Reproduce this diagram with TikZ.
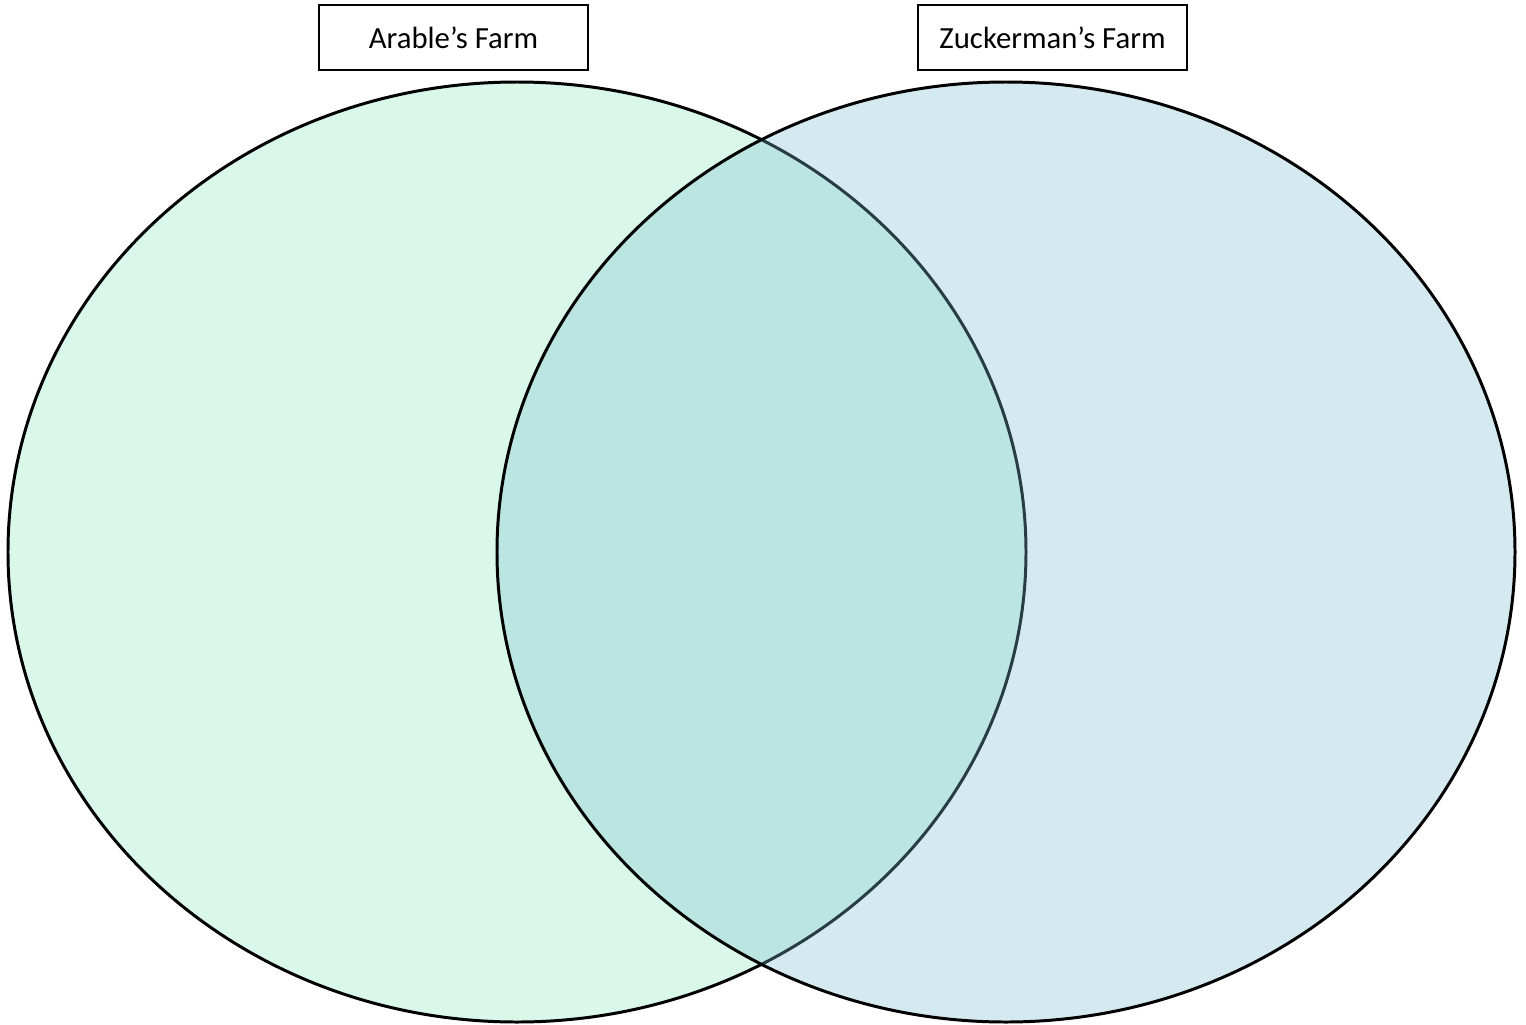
\documentclass[tikz,border=0pt]{standalone}
\usepackage{fontspec}
\setmainfont{Carlito}
\usepackage{xcolor}
\usetikzlibrary{positioning}

\definecolor{arablegreen}{HTML}{D9F8E9}
\definecolor{zuckerblue}{HTML}{7DBFD1}

\begin{document}
\begin{tikzpicture}[
    x=0.02cm, y=-0.02cm,
    every node/.style={font=\fontsize{17.5}{21}\selectfont},
    % Set styles
    farmset/.style={draw=black, line width=1.7pt},
    titlebox/.style={rectangle, draw=black, line width=1pt, fill=white, minimum width=5.38cm, minimum height=1.3cm, inner sep=0pt}
]
\useasboundingbox (0,0) rectangle (1526,1025);

% Circles
\node[coordinate] (arablec) at (517,552) {};
\node[coordinate] (zuckc) at (1006,552) {};
\draw[farmset, fill=arablegreen] (arablec) ellipse [x radius=509, y radius=470];
\draw[farmset, fill=zuckerblue, fill opacity=0.32] (zuckc) ellipse [x radius=509, y radius=470];

% Titles
\node[titlebox] (arable) at (453.5,37.5) {Arable’s Farm};
\node[titlebox] (zuckerman) at (1052.5,37.5) {Zuckerman’s Farm};

\end{tikzpicture}
\end{document}
